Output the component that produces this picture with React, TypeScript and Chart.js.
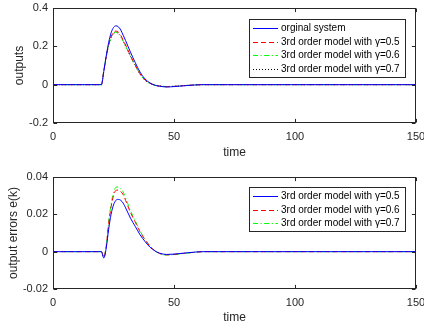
import React, { useEffect, useRef } from "react";
import { Chart, registerables } from "chart.js";

Chart.register(...registerables);

// ---- data ----
const TIME = [0, 20, 21, 22, 23, 24, 25, 26, 27, 28, 29, 30, 32, 34, 36, 38, 40, 42, 44, 47, 50, 54, 58, 62, 150];

const ORIGINAL = [0, 0, 0.07, 0.15, 0.22, 0.27, 0.298, 0.307, 0.302, 0.285, 0.258, 0.23, 0.17, 0.115, 0.065, 0.03, 0.01, -0.002, -0.008, -0.012, -0.01, -0.006, -0.002, 0, 0];
const MODEL_G05 = [0, 0, 0.073, 0.148, 0.208, 0.25, 0.273, 0.28, 0.274, 0.258, 0.232, 0.207, 0.152, 0.102, 0.056, 0.025, 0.008, -0.003, -0.007, -0.011, -0.009, -0.005, -0.002, 0, 0];
const MODEL_G06 = [0, 0, 0.073, 0.147, 0.205, 0.246, 0.268, 0.274, 0.269, 0.253, 0.228, 0.202, 0.149, 0.099, 0.055, 0.024, 0.007, -0.003, -0.007, -0.01, -0.009, -0.005, -0.002, 0, 0];
const MODEL_G07 = [0, 0, 0.073, 0.146, 0.204, 0.245, 0.266, 0.273, 0.267, 0.251, 0.226, 0.201, 0.148, 0.098, 0.054, 0.023, 0.007, -0.003, -0.007, -0.01, -0.008, -0.005, -0.002, 0, 0];

const ERR_G05 = [0, 0, -0.0034, 0.002, 0.012, 0.02, 0.025, 0.0275, 0.028, 0.0275, 0.026, 0.0235, 0.018, 0.0135, 0.009, 0.0055, 0.0025, 0.0005, -0.0008, -0.0015, -0.0013, -0.0008, -0.0003, 0, 0];
const ERR_G06 = [0, 0, -0.003, 0.003, 0.015, 0.024, 0.03, 0.0328, 0.033, 0.0322, 0.0305, 0.0275, 0.021, 0.0158, 0.0105, 0.0065, 0.003, 0.0006, -0.0009, -0.0017, -0.0015, -0.0009, -0.0004, 0, 0];
const ERR_G07 = [0, 0, -0.003, 0.0035, 0.016, 0.0255, 0.0315, 0.0345, 0.0347, 0.0338, 0.032, 0.0288, 0.022, 0.0165, 0.011, 0.0068, 0.0032, 0.0006, -0.001, -0.0018, -0.0016, -0.001, -0.0004, 0, 0];

const X_TICKS = [0, 50, 100, 150];
const TOP_Y_TICKS = [-0.2, 0, 0.2, 0.4];
const BOT_Y_TICKS = [-0.02, 0, 0.02, 0.04];

const TOP_LABELS = ["orginal system", "3rd order model with γ=0.5", "3rd order model with γ=0.6", "3rd order model with γ=0.7"];
const BOT_LABELS = ["3rd order model with γ=0.5", "3rd order model with γ=0.6", "3rd order model with γ=0.7"];

// ---- styles ----
const FONT = "'Liberation Sans', Arial, Helvetica, sans-serif";
const AXIS_COLOR = "#262626";
const SOLID: number[] = [];
const DASH = [5, 3];
const DASHDOT = [5, 2.5, 1.2, 2.5];
const DOT = [1, 2];

type Series = { label: string; data: number[]; color: string; dash: number[] };

const TOP_SERIES: Series[] = [
  { label: TOP_LABELS[0], data: ORIGINAL, color: "#0000ff", dash: SOLID },
  { label: TOP_LABELS[1], data: MODEL_G05, color: "#ff0000", dash: DASH },
  { label: TOP_LABELS[2], data: MODEL_G06, color: "#00ff00", dash: DASHDOT },
  { label: TOP_LABELS[3], data: MODEL_G07, color: "#000000", dash: DOT },
];
const BOT_SERIES: Series[] = [
  { label: BOT_LABELS[0], data: ERR_G05, color: "#0000ff", dash: SOLID },
  { label: BOT_LABELS[1], data: ERR_G06, color: "#ff0000", dash: DASH },
  { label: BOT_LABELS[2], data: ERR_G07, color: "#00ff00", dash: DASHDOT },
];

const framePlugin = {
  id: "mframe",
  afterDatasetsDraw(chart: any) {
    const { ctx, chartArea } = chart;
    const L = Math.round(chartArea.left) + 0.5;
    const R = Math.round(chartArea.right) - 0.5;
    const T = Math.round(chartArea.top) + 0.5;
    const B = Math.round(chartArea.bottom) - 0.5;
    const tl = 3.6;
    ctx.save();
    ctx.setLineDash([]);
    ctx.strokeStyle = AXIS_COLOR;
    ctx.lineWidth = 1;
    ctx.strokeRect(L, T, R - L, B - T);
    ctx.beginPath();
    for (const t of chart.scales.x.ticks) {
      const px = Math.round(chart.scales.x.getPixelForValue(t.value)) + 0.5;
      ctx.moveTo(px, B);
      ctx.lineTo(px, B - tl);
      ctx.moveTo(px, T);
      ctx.lineTo(px, T + tl);
    }
    for (const t of chart.scales.y.ticks) {
      const py = Math.round(chart.scales.y.getPixelForValue(t.value)) + 0.5;
      ctx.moveTo(L, py);
      ctx.lineTo(L + tl, py);
      ctx.moveTo(R, py);
      ctx.lineTo(R - tl, py);
    }
    ctx.stroke();
    ctx.restore();
  },
};

function makeLegendPlugin(series: Series[], offsetTop: number) {
  return {
    id: "mlegend",
    afterDraw(chart: any) {
      const { ctx, chartArea } = chart;
      const w = 156;
      const rowH = 13.7;
      const h = Math.round(series.length * rowH + 3);
      const x1 = Math.round(chartArea.right - 11 - w);
      const y1 = Math.round(chartArea.top + offsetTop);
      ctx.save();
      ctx.fillStyle = "#ffffff";
      ctx.fillRect(x1, y1, w, h);
      ctx.setLineDash([]);
      ctx.strokeStyle = AXIS_COLOR;
      ctx.lineWidth = 1;
      ctx.strokeRect(x1 + 0.5, y1 + 0.5, w, h);
      ctx.font = `10px ${FONT}`;
      ctx.textBaseline = "middle";
      ctx.textAlign = "left";
      series.forEach((s, i) => {
        const cy = Math.round(y1 + 9 + i * rowH) + 0.5;
        ctx.beginPath();
        ctx.setLineDash(s.dash);
        ctx.strokeStyle = s.color;
        ctx.lineWidth = 1;
        ctx.moveTo(x1 + 4, cy);
        ctx.lineTo(x1 + 29, cy);
        ctx.stroke();
        ctx.setLineDash([]);
        ctx.fillStyle = "#000000";
        ctx.fillText(s.label, x1 + 32, cy);
      });
      ctx.restore();
    },
  };
}

type PanelProps = {
  series: Series[];
  yTicks: number[];
  yTitle: string;
  yTitlePad: number;
  padTop: number;
  xAxisHeight: number;
  xTitlePadBottom: number;
  legendTop: number;
  top: number;
};

function Panel(p: PanelProps) {
  const ref = useRef<HTMLCanvasElement>(null);
  useEffect(() => {
    const tickFont = { family: FONT, size: 11 };
    const labelFont = { family: FONT, size: 12 };
    const chart = new Chart(ref.current as HTMLCanvasElement, {
      type: "line",
      data: {
        datasets: p.series.map((s) => ({
          label: s.label,
          data: TIME.map((t, i) => ({ x: t, y: s.data[i] })),
          borderColor: s.color,
          borderDash: s.dash,
          borderWidth: 1,
          pointRadius: 0,
          fill: false,
          cubicInterpolationMode: "monotone" as const,
        })),
      },
      options: {
        animation: false,
        responsive: false,
        devicePixelRatio: 1,
        layout: { padding: { top: p.padTop, right: 8, left: 0, bottom: 0 } },
        plugins: { legend: { display: false }, tooltip: { enabled: false } },
        scales: {
          x: {
            type: "linear",
            min: X_TICKS[0],
            max: X_TICKS[X_TICKS.length - 1],
            grid: { display: false, drawTicks: false },
            border: { display: false },
            afterBuildTicks: (s: any) => {
              s.ticks = X_TICKS.map((v) => ({ value: v }));
            },
            afterFit: (s: any) => {
              s.height = p.xAxisHeight;
              s.paddingLeft = 0;
              s.paddingRight = 0;
            },
            ticks: {
              padding: 7,
              color: AXIS_COLOR,
              font: tickFont,
              maxRotation: 0,
              autoSkip: false,
              callback: (v: any) => String(v),
            },
            title: {
              display: true,
              text: "time",
              color: AXIS_COLOR,
              font: labelFont,
              padding: { top: 0, bottom: p.xTitlePadBottom },
            },
          },
          y: {
            type: "linear",
            min: p.yTicks[0],
            max: p.yTicks[p.yTicks.length - 1],
            grid: { display: false, drawTicks: false },
            border: { display: false },
            afterBuildTicks: (s: any) => {
              s.ticks = p.yTicks.map((v) => ({ value: v }));
            },
            afterFit: (s: any) => {
              s.width = 53;
              s.paddingTop = 0;
              s.paddingBottom = 0;
            },
            ticks: {
              padding: 5,
              color: AXIS_COLOR,
              font: tickFont,
              autoSkip: false,
              callback: (v: any) => String(+Number(v).toFixed(3)),
            },
            title: {
              display: true,
              text: p.yTitle,
              color: AXIS_COLOR,
              font: labelFont,
              padding: { top: p.yTitlePad, bottom: 0 },
            },
          },
        },
      },
      plugins: [framePlugin, makeLegendPlugin(p.series, p.legendTop)],
    } as any);
    return () => chart.destroy();
  }, []);
  return (
    <canvas
      ref={ref}
      width={424}
      height={164}
      style={{ display: "block", position: "absolute", left: 0, top: p.top, width: 424, height: 164 }}
    />
  );
}

export default function App() {
  return (
    <div style={{ position: "absolute", left: 0, top: 0, width: 424, height: 328, background: "#ffffff", overflow: "hidden" }}>
      <Panel
        series={TOP_SERIES}
        yTicks={TOP_Y_TICKS}
        yTitle="outputs"
        yTitlePad={12.5}
        padTop={8}
        xAxisHeight={41}
        xTitlePadBottom={4.5}
        legendTop={11}
        top={0}
      />
      <Panel
        series={BOT_SERIES}
        yTicks={BOT_Y_TICKS}
        yTitle="output errors e(k)"
        yTitlePad={6}
        padTop={13}
        xAxisHeight={39}
        xTitlePadBottom={3.5}
        legendTop={10}
        top={164}
      />
    </div>
  );
}
